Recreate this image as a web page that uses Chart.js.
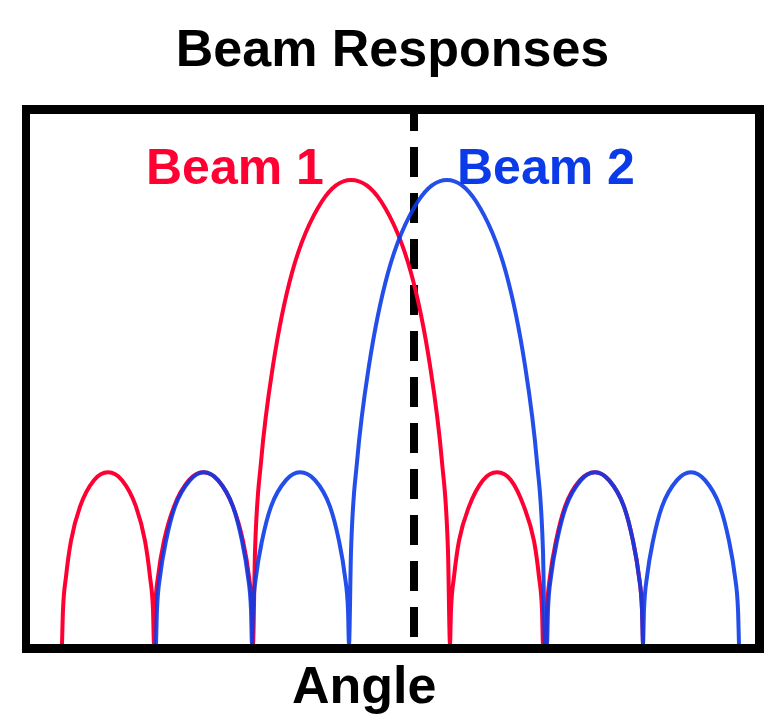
<!DOCTYPE html>
<html>
<head>
<meta charset="utf-8">
<title>Beam Responses</title>
<script src="https://cdn.jsdelivr.net/npm/chart.js@4.4.1/dist/chart.umd.min.js"></script>
<style>
  html, body { margin: 0; padding: 0; background: #fff; }
  #wrap { width: 769px; height: 720px; }
</style>
</head>
<body>
<div id="wrap"><canvas id="beamChart" width="769" height="720"></canvas></div>
<script>
// Labels
const chartTitle = 'Beam Responses';
const axisLabel = 'Angle';
const beamNames = ['Beam 1', 'Beam 2'];

// Beam 1 (red) - angle in degrees, relative response
const redAngle = [
  -35.2, -35.1, -34.8, -34.3, -33.4, -32.0, -30.6, -29.2, -27.8, -26.9, -26.4, -26.1, -26.0,
  -25.9, -25.6, -25.0, -24.0, -22.5, -21.1, -19.6, -18.1, -17.1, -16.5, -16.2, -16.1,
  -15.9, -15.3, -14.1, -12.2, -9.2, -6.3, -3.3, -0.3, 1.6, 2.8, 3.4, 3.6,
  3.7, 4.0, 4.5, 5.5, 6.9, 8.3, 9.7, 11.0, 12.0, 12.5, 12.8, 12.9,
  13.2, 13.3, 13.6, 14.2, 15.1, 16.6, 18.1, 19.5, 21.0, 21.9, 22.5, 22.8, 22.9
];
const redLevel = [
  0, .074, .145, .222, .296, .353, .37, .353, .296, .222, .145, .074, 0,
  .074, .145, .222, .296, .353, .37, .353, .296, .222, .145, .074, 0,
  .199, .392, .6, .8, .954, 1, .954, .8, .6, .392, .199, 0,
  .074, .145, .222, .296, .353, .37, .353, .296, .222, .145, .074, 0,
  0, .074, .145, .222, .296, .353, .37, .353, .296, .222, .145, .074, 0
];

// Beam 2 (blue)
const blueAngle = [
  -25.8, -25.7, -25.4, -24.8, -23.9, -22.4, -21.0, -19.6, -18.1, -17.2, -16.6, -16.3, -16.2,
  -16.1, -15.8, -15.2, -14.3, -12.8, -11.4, -9.9, -8.4, -7.5, -6.9, -6.6, -6.5,
  -6.3, -5.7, -4.5, -2.6, 0.4, 3.3, 6.2, 9.2, 11.1, 12.3, 12.9, 13.1,
  13.3, 13.4, 13.7, 14.3, 15.2, 16.7, 18.1, 19.5, 21.0, 21.9, 22.5, 22.8, 22.9,
  23.0, 23.3, 23.9, 24.8, 26.3, 27.7, 29.1, 30.6, 31.5, 32.1, 32.4, 32.5
];
const blueLevel = [
  0, .074, .145, .222, .296, .353, .37, .353, .296, .222, .145, .074, 0,
  .074, .145, .222, .296, .353, .37, .353, .296, .222, .145, .074, 0,
  .199, .392, .6, .8, .954, 1, .954, .8, .6, .392, .199, 0,
  0, .074, .145, .222, .296, .353, .37, .353, .296, .222, .145, .074, 0,
  .074, .145, .222, .296, .353, .37, .353, .296, .222, .145, .074, 0
];

// dashed steering line and axis limits
const markerAngle = [0, 0];
const markerLevel = [1.142, 0];
const angleRange = [-38.4, 34.1];
const levelRange = [0, 1.142];

const toPoints = (xs, ys) => xs.map((x, i) => ({ x: x, y: ys[i] }));

const RED = '#ff0033';
const BLUE = '#0b3be8';
const FONT = '"Liberation Sans", Arial, sans-serif';

// box frame + texts
const framePlugin = {
  id: 'frame',
  afterDatasetsDraw(chart) {
    const { ctx, chartArea: a } = chart;
    ctx.save();
    ctx.fillStyle = '#000';
    ctx.fillRect(a.left - 8, a.top - 9, a.right - a.left + 17, 9);   // top
    ctx.fillRect(a.left - 8, a.bottom, a.right - a.left + 17, 9);    // bottom
    ctx.fillRect(a.left - 8, a.top - 9, 8, a.bottom - a.top + 18);   // left
    ctx.fillRect(a.right, a.top - 9, 9, a.bottom - a.top + 18);      // right
    ctx.restore();
  },
  afterDraw(chart) {
    const { ctx, chartArea: a } = chart;
    ctx.save();
    ctx.textBaseline = 'alphabetic';
    ctx.font = 'bold 52px ' + FONT;
    ctx.fillStyle = '#000';
    ctx.textAlign = 'center';
    ctx.fillText(chartTitle, (a.left + a.right) / 2, 66);
    ctx.textAlign = 'left';
    ctx.fillText(axisLabel, 292, 703);
    ctx.font = 'bold 50px ' + FONT;
    ctx.fillStyle = RED;
    ctx.fillText(beamNames[0], 146, 184);
    ctx.fillStyle = BLUE;
    ctx.fillText(beamNames[1], 457, 184);
    ctx.restore();
  }
};

const ctx = document.getElementById('beamChart').getContext('2d');
const beamChart = new Chart(ctx, {
  type: 'line',
  data: {
    datasets: [
      {
        label: 'steer',
        data: toPoints(markerAngle, markerLevel),
        borderColor: '#000',
        borderWidth: 8,
        borderDash: [30, 16],
        borderDashOffset: 13,
        borderCapStyle: 'butt',
        pointRadius: 0,
        order: 3
      },
      {
        label: beamNames[0],
        data: toPoints(redAngle, redLevel),
        borderColor: RED,
        borderWidth: 4,
        cubicInterpolationMode: 'monotone',
        pointRadius: 0,
        order: 2
      },
      {
        label: beamNames[1],
        data: toPoints(blueAngle, blueLevel),
        borderColor: 'rgba(11, 59, 232, 0.9)',
        borderWidth: 4,
        cubicInterpolationMode: 'monotone',
        pointRadius: 0,
        order: 1
      }
    ]
  },
  options: {
    responsive: false,
    animation: false,
    events: [],
    layout: { padding: { left: 30, right: 14, top: 114, bottom: 76 } },
    plugins: {
      legend: { display: false },
      tooltip: { enabled: false },
      title: { display: false }
    },
    scales: {
      x: { type: 'linear', display: false, min: angleRange[0], max: angleRange[1] },
      y: { type: 'linear', display: false, min: levelRange[0], max: levelRange[1] }
    }
  },
  plugins: [framePlugin]
});
</script>
</body>
</html>
